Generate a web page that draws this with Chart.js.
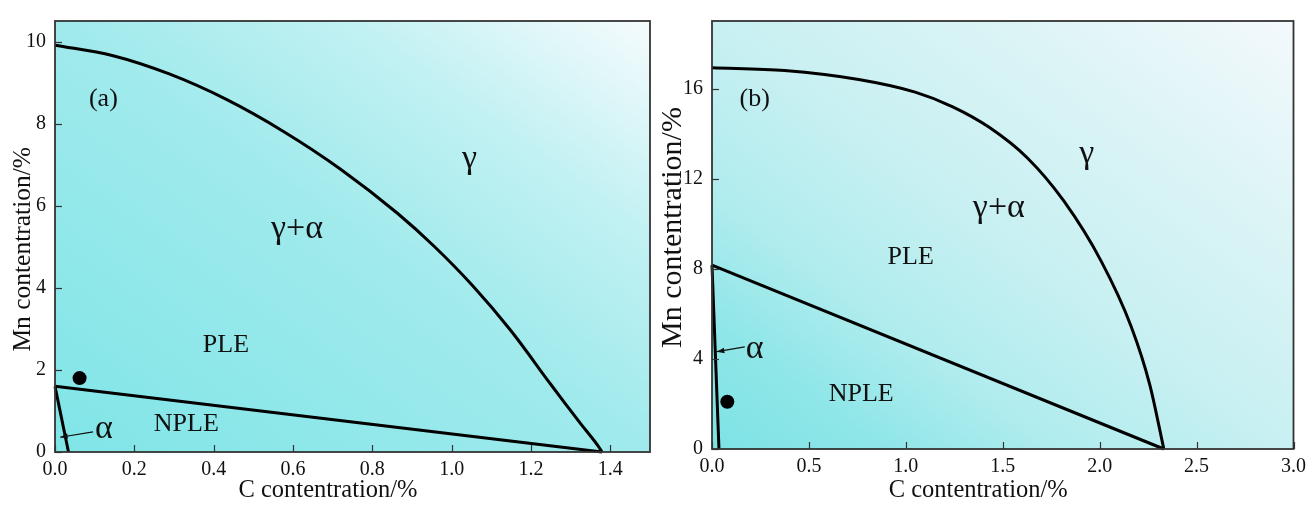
<!DOCTYPE html>
<html>
<head>
<meta charset="utf-8">
<script src="https://cdn.jsdelivr.net/npm/chart.js@4.4.0/dist/chart.umd.min.js"></script>
<style>
  html, body { margin: 0; padding: 0; background: #fff; }
  body { width: 1312px; height: 505px; position: relative; overflow: hidden; }
  canvas { position: absolute; top: 0; }
  #panelA { left: 0; }
  #panelB { left: 655px; }
</style>
</head>
<body>
<canvas id="panelA" width="660" height="505"></canvas>
<canvas id="panelB" width="657" height="505"></canvas>
<script>
// Phase map data (C wt% vs Mn wt%)

// panel (a)
const aGammaC  = [0, 0.144, 0.288, 0.432, 0.576, 0.72, 0.864, 0.957, 1.053, 1.149, 1.245, 1.283, 1.326, 1.369, 1.379];
const aGammaMn = [9.91, 9.66, 9.21, 8.59, 7.81, 6.89, 5.81, 5.00, 4.05, 2.96, 1.71, 1.22, 0.68, 0.15, 0];
const aPleC    = [0, 1.379];
const aPleMn   = [1.6, 0];
const aAlphaC  = [0, 0.034];
const aAlphaMn = [1.6, 0];
const aSteelC  = [0.062];
const aSteelMn = [1.8];
const aXTicks  = [0, 0.2, 0.4, 0.6, 0.8, 1.0, 1.2, 1.4];
const aYTicks  = [0, 2, 4, 6, 8, 10];

// panel (b)
const bGammaC  = [0, 0.374, 0.757, 1.048, 1.242, 1.432, 1.626, 1.815, 2.009, 2.162, 2.259, 2.331];
const bGammaMn = [16.93, 16.80, 16.40, 15.84, 15.19, 14.27, 12.93, 11.01, 8.32, 5.45, 2.84, 0];
const bPleC    = [0, 2.331];
const bPleMn   = [8.16, 0];
const bAlphaC  = [0, 0.036];
const bAlphaMn = [8.16, 0];
const bSteelC  = [0.079];
const bSteelMn = [2.1];
const bXTicks  = [0, 0.5, 1.0, 1.5, 2.0, 2.5, 3.0];
const bYTicks  = [0, 4, 8, 12, 16];

const SERIF = '"Liberation Serif", "DejaVu Serif", serif';
const INK = '#111';
const EM = '\u2003';

const toPts = (xs, ys) => xs.map((x, i) => ({ x: x, y: ys[i] }));

// background gradient, region labels, alpha arrow, frame and inward ticks
const phaseDecor = {
  id: 'phaseDecor',
  beforeDatasetsDraw(chart, args, opts) {
    const { ctx, chartArea: a } = chart;
    const w = a.width, h = a.height;
    // top-left and bottom-right corners sit on the same colour
    const c = 2 * w * h / (w * w + h * h);
    const g = ctx.createLinearGradient(a.left, a.bottom, a.left + h * c, a.bottom - w * c);
    opts.stops.forEach(s => g.addColorStop(s[0], s[1]));
    ctx.save();
    ctx.fillStyle = g;
    ctx.fillRect(a.left, a.top, w, h);
    ctx.restore();
  },
  afterDatasetsDraw(chart, args, opts) {
    const { ctx, scales: { x, y } } = chart;
    ctx.save();
    ctx.fillStyle = INK;
    ctx.textAlign = 'center';
    ctx.textBaseline = 'middle';
    opts.labels.forEach(l => {
      ctx.font = l.size + 'px ' + SERIF;
      ctx.fillText(l.text, x.getPixelForValue(l.x), y.getPixelForValue(l.y));
    });
    // arrow from the alpha label to the thin alpha field
    const ar = opts.arrow;
    const x0 = x.getPixelForValue(ar.from[0]), y0 = y.getPixelForValue(ar.from[1]);
    const x1 = x.getPixelForValue(ar.to[0]), y1 = y.getPixelForValue(ar.to[1]);
    ctx.strokeStyle = INK;
    ctx.lineWidth = 1.2;
    ctx.beginPath();
    ctx.moveTo(x0, y0);
    ctx.lineTo(x1, y1);
    ctx.stroke();
    const ang = Math.atan2(y1 - y0, x1 - x0);
    ctx.beginPath();
    ctx.moveTo(x1, y1);
    ctx.lineTo(x1 - 8 * Math.cos(ang - 0.35), y1 - 8 * Math.sin(ang - 0.35));
    ctx.lineTo(x1 - 8 * Math.cos(ang + 0.35), y1 - 8 * Math.sin(ang + 0.35));
    ctx.closePath();
    ctx.fill();
    ctx.restore();
  },
  afterDraw(chart) {
    const { ctx, chartArea: a, scales: { x, y } } = chart;
    ctx.save();
    ctx.strokeStyle = '#333';
    ctx.lineWidth = 1.2;
    x.ticks.forEach(t => {
      const px = Math.round(x.getPixelForValue(t.value)) + 0.5;
      ctx.beginPath(); ctx.moveTo(px, a.bottom); ctx.lineTo(px, a.bottom - 7); ctx.stroke();
    });
    y.ticks.forEach(t => {
      const py = Math.round(y.getPixelForValue(t.value)) + 0.5;
      ctx.beginPath(); ctx.moveTo(a.left, py); ctx.lineTo(a.left + 7, py); ctx.stroke();
    });
    ctx.lineWidth = 1.8;
    ctx.strokeRect(a.left, a.top, a.width, a.height);
    ctx.restore();
  }
};

function makePanel(id, cfg) {
  const line = (pts, w, smooth) => ({
    data: pts, showLine: true, pointRadius: 0, borderColor: '#000', borderWidth: w,
    cubicInterpolationMode: smooth ? 'monotone' : 'default', tension: 0, clip: false
  });
  return new Chart(document.getElementById(id), {
    type: 'scatter',
    data: {
      datasets: [
        line(cfg.gamma, 3, true),
        line(cfg.ple, 3, false),
        line(cfg.alpha, 3, false),
        { data: cfg.steel, pointRadius: 7, backgroundColor: '#000', borderColor: '#000', borderWidth: 0 }
      ]
    },
    options: {
      responsive: false,
      animation: false,
      devicePixelRatio: 1,
      layout: { padding: { top: cfg.padTop, right: cfg.padRight, left: 0, bottom: 0 } },
      plugins: {
        legend: { display: false },
        tooltip: { enabled: false },
        phaseDecor: cfg.decor
      },
      scales: {
        x: {
          type: 'linear', min: 0, max: cfg.xMax,
          grid: { display: false, drawTicks: false },
          border: { display: false },
          afterBuildTicks: s => { s.ticks = cfg.xTicks.map(v => ({ value: v })); },
          ticks: {
            padding: 6, color: INK, maxRotation: 0, autoSkip: false,
            font: { family: SERIF, size: 20 },
            callback: v => Number(v).toFixed(1)
          },
          title: { display: true, text: 'C contentration/%' + EM + EM, color: INK, font: { family: SERIF, size: 24.5 }, padding: { top: 0, bottom: 0 } },
          afterFit: s => { s.height = cfg.xAxisHeight; }
        },
        y: {
          type: 'linear', min: 0, max: cfg.yMax,
          grid: { display: false, drawTicks: false },
          border: { display: false },
          afterBuildTicks: s => { s.ticks = cfg.yTicks.map(v => ({ value: v })); },
          ticks: {
            padding: 9, color: INK, autoSkip: false,
            font: { family: SERIF, size: 20 }
          },
          title: { display: true, text: cfg.yTitleLead + 'Mn contentration/%' + cfg.yTitleTail, color: INK, font: { family: SERIF, size: cfg.yTitleSize }, padding: { top: cfg.yTitlePad, bottom: 0 } },
          afterFit: s => { s.width = cfg.yAxisWidth; }
        }
      }
    },
    plugins: [phaseDecor]
  });
}

makePanel('panelA', {
  gamma: toPts(aGammaC, aGammaMn),
  ple: toPts(aPleC, aPleMn),
  alpha: toPts(aAlphaC, aAlphaMn),
  steel: toPts(aSteelC, aSteelMn),
  xMax: 1.5, yMax: 10.5, xTicks: aXTicks, yTicks: aYTicks,
  padTop: 12, padRight: 10, xAxisHeight: 53, yAxisWidth: 55,
  yTitlePad: 8, yTitleLead: '', yTitleTail: EM, yTitleSize: 25.5,
  decor: {
    stops: [[0, '#80e5e7'], [0.5, '#a0eaec'], [0.75, '#c2f1f3'], [1, '#f6fbfd']],
    labels: [
      { text: '(a)', x: 0.122, y: 8.6, size: 26 },
      { text: 'γ', x: 1.045, y: 7.13, size: 34 },
      { text: 'γ+α', x: 0.61, y: 5.42, size: 34 },
      { text: 'PLE', x: 0.431, y: 2.6, size: 26 },
      { text: 'NPLE', x: 0.331, y: 0.69, size: 26 },
      { text: 'α', x: 0.123, y: 0.55, size: 34 }
    ],
    arrow: { from: [0.096, 0.49], to: [0.013, 0.36] }
  }
});

makePanel('panelB', {
  gamma: toPts(bGammaC, bGammaMn),
  ple: toPts(bPleC, bPleMn),
  alpha: toPts(bAlphaC, bAlphaMn),
  steel: toPts(bSteelC, bSteelMn),
  xMax: 3.0, yMax: 19, xTicks: bXTicks, yTicks: bYTicks,
  padTop: 13, padRight: 13, xAxisHeight: 56, yAxisWidth: 57,
  yTitlePad: 0, yTitleLead: '\u2002', yTitleTail: '', yTitleSize: 30,
  decor: {
    stops: [[0, '#7de3e5'], [0.15, '#8fe6e8'], [0.3, '#b0ecee'], [0.5, '#c8f0f2'], [0.75, '#dcf4f6'], [1, '#f4f9fc']],
    labels: [
      { text: '(b)', x: 0.22, y: 15.55, size: 26 },
      { text: 'γ', x: 1.934, y: 13.1, size: 34 },
      { text: 'γ+α', x: 1.48, y: 10.7, size: 34 },
      { text: 'PLE', x: 1.025, y: 8.52, size: 26 },
      { text: 'NPLE', x: 0.77, y: 2.43, size: 26 },
      { text: 'α', x: 0.22, y: 4.45, size: 34 }
    ],
    arrow: { from: [0.169, 4.53], to: [0.025, 4.32] }
  }
});
</script>
</body>
</html>
